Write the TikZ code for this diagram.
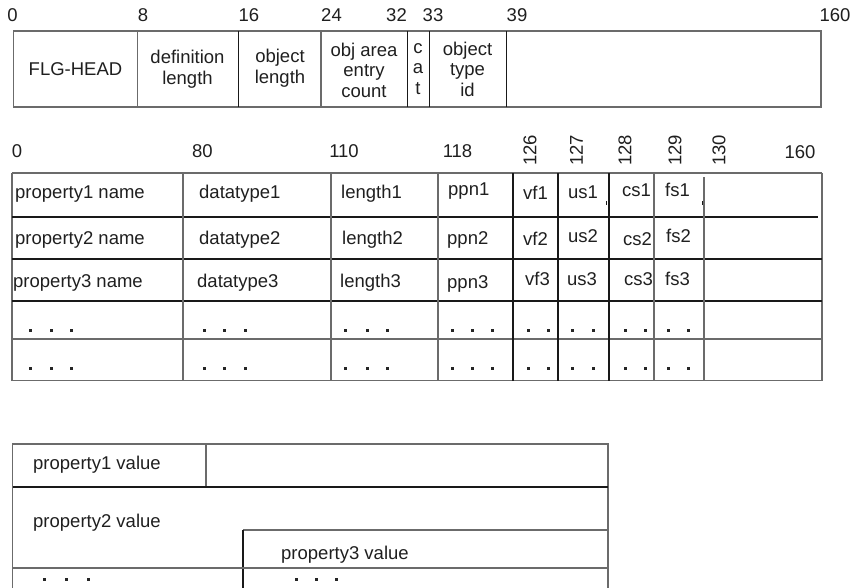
\documentclass[tikz,border=0pt]{standalone}
\usepackage{fontspec}
\setmainfont{Liberation Sans}
\begin{document}
\begin{tikzpicture}[x=1pt,y=-1pt,
  gl/.style={draw=black!58, line width=1.2pt},
  bl/.style={draw=black!90, line width=1.2pt},
  txt/.style={font=\fontsize{18.5}{20.5}\selectfont, inner sep=0pt, text=black!88},
  cell/.style={txt, anchor=base west},
  num/.style={txt, anchor=base},
  rnum/.style={txt, rotate=90},
  mtxt/.style={txt, align=center},
  dotsq/.style={fill=black!85}
]
\useasboundingbox (0,0) rectangle (854,587);
\clip (0,0) rectangle (854,587);

% ---------- top header box ----------
\draw[gl] (13.5,31) rectangle (821,107);
\draw[gl] (137.5,31) -- (137.5,107);
\draw[bl, line width=1.8pt] (238.5,31) -- (238.5,107);
\draw[gl] (321,31) -- (321,107);
\draw[bl, line width=1pt] (407.5,31) -- (407.5,107);
\draw[bl, line width=1pt] (429.5,31) -- (429.5,107);
\draw[bl, line width=1pt] (506.5,31) -- (506.5,107);

\node[num] (t0) at (12.5,21) {0};
\node[num] (t8) at (143,21) {8};
\node[num] (t16) at (249,21) {16};
\node[num] (t24) at (331.5,21) {24};
\node[num] (t32) at (396.5,21) {32};
\node[num] (t33) at (433,21) {33};
\node[num] (t39) at (517,21) {39};
\node[num] (t160) at (835,21) {160};

\node[txt] (flg) at (75.5,69.5) {FLG-HEAD};
\node[mtxt] (deflen) at (187.5,69) {definition\\length};
\node[mtxt] (objlen) at (280,68) {object\\length};
\node[mtxt] (objarea) at (364,70) {obj area\\entry\\count};
\node[mtxt] (cat) at (418,69) {c\\a\\t};
\node[mtxt] (otid) at (467.5,69) {object\\type\\id};

% ---------- property table ----------
\node[num] (h0) at (17,157) {0};
\node[num] (h80) at (202.5,157) {80};
\node[num] (h110) at (344,157) {110};
\node[num] (h118) at (457.5,157) {118};
\node[num] (h160) at (800,158) {160};
\node[rnum] (h126) at (530,150.5) {126};
\node[rnum] (h127) at (576.5,150.5) {127};
\node[rnum] (h128) at (625,150.5) {128};
\node[rnum] (h129) at (675,150.5) {129};
\node[rnum] (h130) at (719,150.5) {130};

\draw[gl] (12,173) -- (822,173);
\draw[gl] (12,173) -- (12,381);
\draw[gl] (822,173) -- (822,381);
\draw[gl] (12,380.5) -- (822,380.5);
\draw[bl] (12,217) -- (818,217);
\draw[bl] (12,259) -- (822,259);
\draw[bl] (12,301) -- (822,301);
\draw[gl] (12,339) -- (822,339);
\foreach \cx in {183,331,438,654} \draw[gl] (\cx,173) -- (\cx,380.5);
\foreach \cx in {513,558,609} \draw[bl] (\cx,173) -- (\cx,380.5);
\draw[gl] (704,177) -- (704,380.5);
\draw[bl, line width=0.8pt] (606,201) -- (606,205);
\draw[bl, line width=0.8pt] (702,201) -- (702,205);

% row 1
\node[cell] (p1n) at (15,198) {property1 name};
\node[cell] (dt1) at (199,198) {datatype1};
\node[cell] (ln1) at (341,198) {length1};
\node[cell] (pp1) at (448,195) {ppn1};
\node[cell] (vf1) at (523,199) {vf1};
\node[cell] (us1) at (568,198) {us1};
\node[cell] (cs1) at (622,196) {cs1};
\node[cell] (fs1) at (665,196) {fs1};
% row 2
\node[cell] (p2n) at (15,244) {property2 name};
\node[cell] (dt2) at (199,244) {datatype2};
\node[cell] (ln2) at (342,244) {length2};
\node[cell] (pp2) at (447,244) {ppn2};
\node[cell] (vf2) at (523,245) {vf2};
\node[cell] (us2) at (568,242) {us2};
\node[cell] (cs2) at (623,245) {cs2};
\node[cell] (fs2) at (666,242) {fs2};
% row 3
\node[cell] (p3n) at (13,287) {property3 name};
\node[cell] (dt3) at (197,287) {datatype3};
\node[cell] (ln3) at (340,287) {length3};
\node[cell] (pp3) at (447,288) {ppn3};
\node[cell] (vf3) at (525,285) {vf3};
\node[cell] (us3) at (567,285) {us3};
\node[cell] (cs3) at (624,285) {cs3};
\node[cell] (fs3) at (665,285) {fs3};
% dots rows
\foreach \ry in {330,368} {
  \foreach \dx in {30,51,71,204,224,245,345,367,387,452,472,492,528,548,572,593,625,645,668,688}
    \fill[dotsq] (\dx-1.5,\ry-1.5) rectangle (\dx+1.5,\ry+1.5);
}

% ---------- property values ----------
\draw[gl] (12.5,600) -- (12.5,444) -- (608,444) -- (608,600);
\draw[gl] (206,444) -- (206,487);
\draw[bl] (12.5,487) -- (608,487);
\draw[gl] (243,530) -- (608,530);
\draw[bl] (243,530) -- (243,600);
\draw[gl] (12.5,568) -- (608,568);
\node[cell] (pv1) at (33,469) {property1 value};
\node[cell] (pv2) at (33,527) {property2 value};
\node[cell] (pv3) at (281,559) {property3 value};
\foreach \dx in {44,66,88,296,316,336}
  \fill[dotsq] (\dx-1.5,577.5) rectangle (\dx+1.5,580.5);
\end{tikzpicture}
\end{document}
